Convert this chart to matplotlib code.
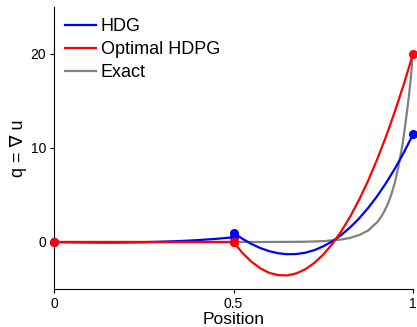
import matplotlib
matplotlib.use("Agg")
import matplotlib.pyplot as plt

plt.rcParams['font.family'] = ['Liberation Sans', 'DejaVu Sans']

# HDG solution, element 1 [0, 0.5] and element 2 [0.5, 1]
hdg_x1 = [0.0, 0.05, 0.1, 0.15, 0.2, 0.25, 0.3, 0.35, 0.4, 0.45, 0.5]
hdg_y1 = [0.0, -0.03, -0.05, -0.06, -0.05, -0.02, 0.03, 0.1, 0.2, 0.33, 0.5]
hdg_x2 = [0.5, 0.525, 0.55, 0.575, 0.6, 0.625, 0.65, 0.675, 0.7, 0.725, 0.75,
          0.775, 0.8, 0.825, 0.85, 0.875, 0.9, 0.925, 0.95, 0.975, 1.0]
hdg_y2 = [1.0, 0.34, -0.21, -0.65, -0.98, -1.20, -1.30, -1.28, -1.14, -0.87, -0.46,
          0.07, 0.74, 1.56, 2.51, 3.62, 4.87, 6.28, 7.84, 9.56, 11.45]

# Optimal HDPG solution
hdpg_x1 = [0.0, 0.25, 0.5]
hdpg_y1 = [0.0, 0.0, 0.0]
hdpg_x2 = hdg_x2
hdpg_y2 = [0.0, -1.17, -2.10, -2.81, -3.29, -3.53, -3.55, -3.34, -2.90, -2.23, -1.34,
           -0.22, 1.13, 2.70, 4.50, 6.52, 8.77, 11.24, 13.94, 16.86, 20.0]

# Exact solution
exact_x = [0.0, 0.5, 0.6, 0.65, 0.7, 0.75, 0.8, 0.825, 0.85, 0.875, 0.9, 0.91, 0.92,
           0.93, 0.94, 0.95, 0.96, 0.97, 0.975, 0.98, 0.985, 0.99, 0.995, 1.0]
exact_y = [0.0, 0.0, 0.004, 0.011, 0.03, 0.09, 0.26, 0.44, 0.74, 1.22, 2.1, 2.6, 3.25,
           4.05, 5.1, 6.4, 8.1, 10.2, 11.5, 12.9, 14.4, 16.0, 17.9, 20.0]

xticks = [0, 0.5, 1]
xticklabels = ['0', '0.5', '1']
yticks = [0, 10, 20]

blue = (0, 0, 1)
red = (1, 0, 0)
gray = (0.5, 0.5, 0.5)

fig = plt.figure(figsize=(4.17, 3.27), dpi=100)
ax = fig.add_axes([54/417, 1-289/327, (413-54)/417, (289-7)/327])

lw = 1.6
ms = 5.5
l3, = ax.plot(exact_x, exact_y, color=gray, lw=lw, zorder=2, label='Exact')
l1, = ax.plot(hdg_x1, hdg_y1, color=blue, lw=lw, zorder=3, label='HDG')
ax.plot(hdg_x2, hdg_y2, color=blue, lw=lw, zorder=3)
for xs, ys in [(hdg_x1, hdg_y1), (hdg_x2, hdg_y2)]:
    ax.plot([xs[0], xs[-1]], [ys[0], ys[-1]], 'o', color=blue, ms=ms, zorder=3, clip_on=False)
l2, = ax.plot(hdpg_x1, hdpg_y1, color=red, lw=lw, zorder=4, label='Optimal HDPG')
ax.plot(hdpg_x2, hdpg_y2, color=red, lw=lw, zorder=4)
for xs, ys in [(hdpg_x1, hdpg_y1), (hdpg_x2, hdpg_y2)]:
    ax.plot([xs[0], xs[-1]], [ys[0], ys[-1]], 'o', color=red, ms=ms, zorder=4, clip_on=False)

ax.set_xlim(0, 1)
ax.set_ylim(-5, 25)
ax.set_xticks(xticks)
ax.set_xticklabels(xticklabels)
ax.set_yticks(yticks)
ax.spines['top'].set_visible(False)
ax.spines['right'].set_visible(False)
ax.tick_params(direction='out', length=3, width=0.8, labelsize=10, pad=2.5)
ax.tick_params(axis='x', pad=3)
ax.set_xlabel('Position', fontsize=12.5, labelpad=0.5)
ax.set_ylabel('q = \u2207 u', fontsize=13, labelpad=3)

leg = ax.legend([l1, l2, l3], ['HDG', 'Optimal HDPG', 'Exact'], loc='upper left',
                bbox_to_anchor=(0.0, 1.0), frameon=False, fontsize=13,
                handlelength=1.7, handletextpad=0.3, labelspacing=0.35, borderaxespad=0.2)

fig.savefig('out.png', dpi=100)
